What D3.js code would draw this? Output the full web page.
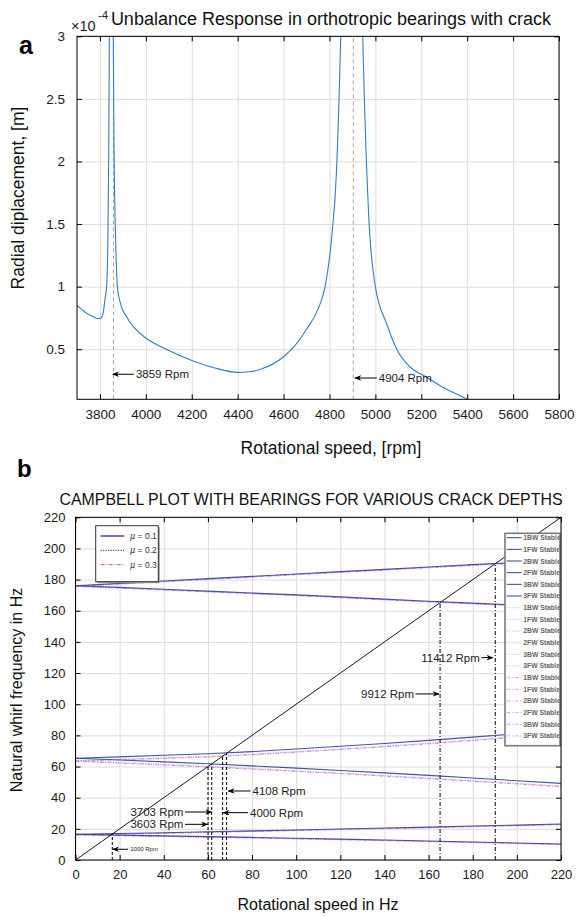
<!DOCTYPE html>
<html>
<head>
<meta charset="utf-8">
<script src="https://cdn.jsdelivr.net/npm/d3@7"></script>
<style>
  body { margin: 0; background: #fff; }
  svg { font-family: "Liberation Sans", Arial, sans-serif; }
  .grid line { stroke: #dcdcdc; }
  .grid path { display: none; }
  .axis path { display: none; }
  .axis line { stroke: #000; }
  .axis text { fill: #1a1a1a; }
</style>
</head>
<body>
<svg width="580" height="916"></svg>
<script>
// ---------- panel a : unbalance response ----------
const rpm = [3700, 3720, 3740, 3760, 3780, 3795, 3805, 3815, 3822, 3829, 3834, 3838, 3841, 3845, 3850,
  3855, 3858, 3862, 3868, 3876, 3890, 3916, 3950, 4000, 4100, 4200, 4300, 4400, 4450, 4500, 4600, 4650,
  4700, 4750, 4781, 4810, 4830, 4849, 4870, 4900, 4925, 4945, 4970, 5000, 5050, 5093, 5150, 5220, 5300, 5400, 5420];
const disp = [0.85, 0.82, 0.79, 0.77, 0.75, 0.745, 0.75, 0.80, 0.90, 1.0, 1.3, 2.0, 3.0, 5.0, 8.0,
  5.0, 3.0, 2.0, 1.4, 1.0, 0.86, 0.76, 0.67, 0.59, 0.49, 0.41, 0.35, 0.315, 0.32, 0.34, 0.44, 0.53,
  0.66, 0.82, 1.0, 1.4, 1.9, 3.0, 5.0, 8.0, 5.0, 3.0, 1.6, 1.0, 0.7, 0.5, 0.36, 0.28, 0.19, 0.1, 0.08];
const critRpm = [3859, 4904];
const critLabels = ["3859 Rpm", "4904 Rpm"];
// arrow tip, tail and height in data units
const critArrowTip = [3856, 4911];
const critArrowTail = [3948, 5006];
const critArrowY = [0.30, 0.27];
const topXTicks = d3.range(3800, 5801, 200);
const topYTicks = [0.5, 1, 1.5, 2, 2.5, 3];

// ---------- panel b : Campbell diagram ----------
const speedHz = [0, 20, 40, 60, 80, 100, 120, 140, 160, 180, 200, 220];
const modes = ["1BW", "1FW", "2BW", "2FW", "3BW", "3FW"];
const mu1 = [
  [16.5, 16.0, 15.5, 15.0, 14.5, 13.95, 13.4, 12.8, 12.2, 11.6, 10.95, 10.3],
  [16.5, 17.0, 17.5, 18.1, 18.7, 19.3, 19.9, 20.5, 21.1, 21.8, 22.4, 23.1],
  [65.3, 64.2, 63.0, 61.8, 60.4, 59.0, 57.5, 55.9, 54.3, 52.6, 50.9, 49.2],
  [65.3, 66.2, 67.2, 68.2, 69.6, 71.3, 73.0, 74.8, 76.8, 78.9, 81.1, 83.3],
  [176.1, 175.0, 173.8, 172.6, 171.4, 170.2, 168.9, 167.5, 166.1, 164.9, 163.7, 162.5],
  [176.1, 177.6, 179.1, 180.6, 182.1, 183.6, 185.1, 186.6, 188.1, 189.6, 191.1, 192.6]
];
const mu2 = [
  [16.2, 15.7, 15.2, 14.7, 14.2, 13.65, 13.1, 12.5, 11.9, 11.3, 10.65, 10.0],
  [16.2, 16.7, 17.2, 17.8, 18.4, 19.0, 19.6, 20.2, 20.8, 21.5, 22.1, 22.8],
  [63.8, 62.6, 61.4, 60.1, 58.7, 57.3, 55.8, 54.2, 52.6, 50.9, 49.2, 47.5],
  [63.8, 64.7, 65.6, 66.5, 67.9, 69.6, 71.3, 73.1, 75.0, 77.1, 79.3, 81.5],
  [175.8, 174.7, 173.5, 172.3, 171.1, 169.9, 168.6, 167.2, 165.8, 164.6, 163.4, 162.2],
  [175.8, 177.3, 178.8, 180.3, 181.8, 183.3, 184.8, 186.3, 187.8, 189.3, 190.8, 192.3]
];
const mu3 = [
  [16.1, 15.6, 15.1, 14.6, 14.1, 13.55, 13.0, 12.4, 11.8, 11.2, 10.55, 9.9],
  [16.1, 16.6, 17.1, 17.7, 18.3, 18.9, 19.5, 20.1, 20.7, 21.4, 22.0, 22.7],
  [63.4, 62.2, 61.0, 59.7, 58.3, 56.9, 55.4, 53.8, 52.2, 50.5, 48.8, 47.1],
  [63.4, 64.3, 65.2, 66.1, 67.5, 69.2, 70.9, 72.7, 74.6, 76.7, 78.9, 81.1],
  [175.6, 174.5, 173.3, 172.1, 170.9, 169.7, 168.4, 167.0, 165.6, 164.4, 163.2, 162.0],
  [175.6, 177.1, 178.6, 180.1, 181.6, 183.1, 184.6, 186.1, 187.6, 189.1, 190.6, 192.1]
];
const muLabels = ["0.1", "0.2", "0.3"];
const markRpm = [1000, 3603, 3703, 4000, 4108, 9912, 11412];
const markDash = ["3,2", "3,2", "3,2", "3,2", "3,2", "4,2,1,2", "4,2,1,2"];
// annotation: text, height (Hz), arrow tail and tip x (Hz)
const annText = ["1000 Rpm", "3603 Rpm", "3703 Rpm", "4000 Rpm", "4108 Rpm", "9912 Rpm", "11412 Rpm"];
const annY = [6.9, 22.9, 30.8, 30.4, 44.3, 106.6, 129.9];
const annTail = [23.9, 49.6, 49.6, 78.2, 79.3, 154.1, 183.9];
const annTip = [16.9, 59.8, 61.7, 66.9, 69.2, 164.7, 189.1];
const annSize = [6, 11.5, 11.5, 11.5, 11.5, 11.5, 11.5];
const botTicks = d3.range(0, 221, 20);

const svg = d3.select("svg");
const defs = svg.append("defs");
defs.append("marker").attr("id", "arr")
  .attr("viewBox", "0 0 10 10").attr("refX", 9).attr("refY", 5)
  .attr("markerWidth", 7).attr("markerHeight", 7).attr("orient", "auto-start-reverse")
  .append("path").attr("d", "M0,1 L10,5 L0,9 L3,5 Z").attr("fill", "#000");

// ================= panel a =================
const xA = d3.scaleLinear().domain([3700, 5800]).range([77, 559]);
const yA = d3.scaleLinear().domain([0.1, 3]).range([399.3, 36.3]);

defs.append("clipPath").attr("id", "clipA").append("rect")
  .attr("x", 77).attr("y", 36.3).attr("width", 482).attr("height", 363);

const gA = svg.append("g");
gA.append("g").attr("class", "grid")
  .attr("transform", "translate(0,399.3)")
  .call(d3.axisBottom(xA).tickValues(topXTicks).tickSize(-363).tickFormat(""));
gA.append("g").attr("class", "grid")
  .attr("transform", "translate(77,0)")
  .call(d3.axisLeft(yA).tickValues(topYTicks).tickSize(-482).tickFormat(""));

// critical speed markers
gA.selectAll(".crit").data(critRpm).enter().append("line")
  .attr("x1", d => xA(d)).attr("x2", d => xA(d))
  .attr("y1", yA(0.1)).attr("y2", yA(3))
  .attr("stroke", "#a8a8a8").attr("stroke-width", 1).attr("stroke-dasharray", "4,3");

gA.append("path")
  .datum(d3.zip(rpm, disp))
  .attr("clip-path", "url(#clipA)")
  .attr("fill", "none").attr("stroke", "#2e7ec6").attr("stroke-width", 1.1)
  .attr("d", d3.line().x(d => xA(d[0])).y(d => yA(d[1])).curve(d3.curveMonotoneX));

critRpm.forEach((c, i) => {
  gA.append("line")
    .attr("x1", xA(critArrowTail[i])).attr("x2", xA(critArrowTip[i]))
    .attr("y1", yA(critArrowY[i])).attr("y2", yA(critArrowY[i]))
    .attr("stroke", "#000").attr("stroke-width", 1).attr("marker-end", "url(#arr)");
  gA.append("text")
    .attr("x", xA(critArrowTail[i]) + 2).attr("y", yA(critArrowY[i]) + 4)
    .attr("font-size", 11.5).attr("fill", "#222").text(critLabels[i]);
});

// axes with inward ticks on four sides
gA.append("g").attr("class", "axis").attr("transform", "translate(0,399.3)")
  .call(d3.axisBottom(xA).tickValues(topXTicks).tickFormat(d3.format("d"))
    .tickSizeInner(-5).tickSizeOuter(0).tickPadding(10))
  .selectAll("text").attr("font-size", 13.5);
gA.append("g").attr("class", "axis").attr("transform", "translate(0,36.3)")
  .call(d3.axisTop(xA).tickValues(topXTicks).tickSizeInner(-5).tickSizeOuter(0).tickFormat(""));
gA.append("g").attr("class", "axis").attr("transform", "translate(77,0)")
  .call(d3.axisLeft(yA).tickValues(topYTicks).tickFormat(d3.format("~g"))
    .tickSizeInner(-5).tickSizeOuter(0).tickPadding(12))
  .selectAll("text").attr("font-size", 13.5);
gA.append("g").attr("class", "axis").attr("transform", "translate(559,0)")
  .call(d3.axisRight(yA).tickValues(topYTicks).tickSizeInner(-5).tickSizeOuter(0).tickFormat(""));
gA.append("rect").attr("x", 77).attr("y", 36.3).attr("width", 482).attr("height", 363)
  .attr("fill", "none").attr("stroke", "#000").attr("stroke-width", 1);

svg.append("text").attr("x", 19).attr("y", 54).attr("font-size", 25).attr("font-weight", "bold").text("a");
svg.append("text").attr("x", 71).attr("y", 31).attr("font-size", 14.5).attr("fill", "#222")
  .text("\u00d710");
svg.append("text").attr("x", 98).attr("y", 19).attr("font-size", 11.5).attr("fill", "#222").text("-4");
svg.append("text").attr("x", 331).attr("y", 25).attr("text-anchor", "middle")
  .attr("font-size", 18).attr("fill", "#111").text("Unbalance Response in orthotropic bearings with crack");
svg.append("text").attr("x", 331).attr("y", 454).attr("text-anchor", "middle")
  .attr("font-size", 17.5).attr("fill", "#111").text("Rotational speed, [rpm]");
svg.append("text").attr("transform", "translate(24,198) rotate(-90)").attr("text-anchor", "middle")
  .attr("font-size", 17.5).attr("fill", "#111").text("Radial diplacement, [m]");

// ================= panel b =================
const xB = d3.scaleLinear().domain([0, 220]).range([75.5, 561]);
const yB = d3.scaleLinear().domain([0, 220]).range([860, 517.3]);
const bw = 561 - 75.5, bh = 860 - 517.3;

defs.append("clipPath").attr("id", "clipB").append("rect")
  .attr("x", 75.5).attr("y", 517.3).attr("width", bw).attr("height", bh);

const gB = svg.append("g");
gB.append("g").attr("class", "grid").attr("transform", "translate(0,860)")
  .call(d3.axisBottom(xB).tickValues(botTicks).tickSize(-bh).tickFormat(""));
gB.append("g").attr("class", "grid").attr("transform", "translate(75.5,0)")
  .call(d3.axisLeft(yB).tickValues(botTicks).tickSize(-bw).tickFormat(""));

const lineB = d3.line().x(d => xB(d[0])).y(d => yB(d[1]));
const styles = [
  {stroke: "#2f3fa6", dash: null, width: 1.1, op: 0.9},
  {stroke: "#8a8a8a", dash: "1,1.5", width: 1, op: 0.8},
  {stroke: "#d568cf", dash: "4,1.5,1,1.5", width: 1, op: 0.8}
];
const seriesSets = [mu1, mu2, mu3];
const plotOrder = [1, 2, 0];
const gLines = gB.append("g").attr("clip-path", "url(#clipB)");
plotOrder.forEach(k => {
  seriesSets[k].forEach(vals => {
    gLines.append("path").datum(d3.zip(speedHz, vals))
      .attr("fill", "none").attr("stroke", styles[k].stroke)
      .attr("stroke-width", styles[k].width).attr("stroke-opacity", styles[k].op)
      .attr("stroke-dasharray", styles[k].dash).attr("d", lineB);
  });
});
// 1x excitation line
gLines.append("path").datum([[0, 0], [220, 220]])
  .attr("fill", "none").attr("stroke", "#000").attr("stroke-width", 0.9).attr("d", lineB);

// critical speed verticals
gLines.selectAll(".mark").data(markRpm).enter().append("line")
  .attr("x1", d => xB(d / 60)).attr("x2", d => xB(d / 60))
  .attr("y1", yB(0)).attr("y2", d => yB(d / 60))
  .attr("stroke", "#000").attr("stroke-width", 1)
  .attr("stroke-dasharray", (d, i) => markDash[i]);

annText.forEach((t, i) => {
  const left = annTail[i] < annTip[i];
  gB.append("line")
    .attr("x1", xB(annTail[i])).attr("x2", xB(annTip[i]))
    .attr("y1", yB(annY[i])).attr("y2", yB(annY[i]))
    .attr("stroke", "#000").attr("stroke-width", 1).attr("marker-end", "url(#arr)");
  gB.append("text")
    .attr("x", xB(annTail[i]) + (left ? -1.5 : 2)).attr("y", yB(annY[i]) + annSize[i] * 0.36)
    .attr("text-anchor", left ? "end" : "start")
    .attr("font-size", annSize[i]).attr("fill", "#222")
    .text(t);
});

gB.append("g").attr("class", "axis").attr("transform", "translate(0,860)")
  .call(d3.axisBottom(xB).tickValues(botTicks).tickSizeInner(-5).tickSizeOuter(0).tickPadding(10))
  .selectAll("text").attr("font-size", 13);
gB.append("g").attr("class", "axis").attr("transform", "translate(0,517.3)")
  .call(d3.axisTop(xB).tickValues(botTicks).tickSizeInner(-5).tickSizeOuter(0).tickFormat(""));
gB.append("g").attr("class", "axis").attr("transform", "translate(75.5,0)")
  .call(d3.axisLeft(yB).tickValues(botTicks).tickSizeInner(-5).tickSizeOuter(0).tickPadding(10))
  .selectAll("text").attr("font-size", 13);
gB.append("g").attr("class", "axis").attr("transform", "translate(561,0)")
  .call(d3.axisRight(yB).tickValues(botTicks).tickSizeInner(-5).tickSizeOuter(0).tickFormat(""));

// mu legend
const lg1 = gB.append("g").attr("transform", "translate(95.7,525.7)");
lg1.append("rect").attr("x", 1.5).attr("y", 1.5).attr("width", 62.6).attr("height", 56).attr("fill", "#9a9a9a");
lg1.append("rect").attr("width", 62.6).attr("height", 56).attr("fill", "#fff")
  .attr("stroke", "#333").attr("stroke-width", 1);
muLabels.forEach((m, i) => {
  const yy = 10.3 + i * 14.3;
  lg1.append("line").attr("x1", 5).attr("x2", 28.6).attr("y1", yy).attr("y2", yy)
    .attr("stroke", i === 1 ? "#333" : styles[i].stroke).attr("stroke-width", i ? 1.2 : 1.4)
    .attr("stroke-dasharray", styles[i].dash);
  const tx = lg1.append("text").attr("x", 34).attr("y", yy + 3).attr("font-size", 8.5).attr("fill", "#333");
  tx.append("tspan").attr("font-style", "italic").attr("font-family", "DejaVu Serif, serif").text("\u03bc");
  tx.append("tspan").text(" = " + m);
});

// mode legend
const lg2 = gB.append("g").attr("transform", "translate(505,533.3)");
defs.append("clipPath").attr("id", "clipL").append("rect")
  .attr("x", 0).attr("y", 0).attr("width", 55).attr("height", 212.4);
lg2.append("rect").attr("width", 55).attr("height", 212.4).attr("fill", "#fff");
const lgEntries = lg2.append("g").attr("clip-path", "url(#clipL)");
seriesSets.forEach((set, k) => {
  modes.forEach((m, j) => {
    const yy = 4.4 + (k * 6 + j) * 11.66;
    lgEntries.append("line").attr("x1", 1.7).attr("x2", 16.7).attr("y1", yy).attr("y2", yy)
      .attr("stroke", styles[k].stroke).attr("stroke-width", 1)
      .attr("stroke-opacity", k ? 0.6 : 1).attr("stroke-dasharray", styles[k].dash);
    lgEntries.append("text").attr("x", 18.3).attr("y", yy + 2.5)
      .attr("font-size", 6.8).attr("font-weight", "bold").attr("fill", "#666")
      .text(m + " Stable");
  });
});
lg2.append("rect").attr("width", 55).attr("height", 212.4).attr("fill", "none")
  .attr("stroke", "#7a7a7a").attr("stroke-width", 1.6);

gB.append("rect").attr("x", 75.5).attr("y", 517.3).attr("width", bw).attr("height", bh)
  .attr("fill", "none").attr("stroke", "#000").attr("stroke-width", 1);

svg.append("text").attr("x", 17).attr("y", 477).attr("font-size", 24).attr("font-weight", "bold").text("b");
svg.append("text").attr("x", 311).attr("y", 505).attr("text-anchor", "middle")
  .attr("font-size", 15.9).attr("fill", "#111").text("CAMPBELL PLOT WITH BEARINGS FOR VARIOUS CRACK DEPTHS");
svg.append("text").attr("x", 318).attr("y", 910).attr("text-anchor", "middle")
  .attr("font-size", 16).attr("fill", "#111").text("Rotational speed in Hz");
svg.append("text").attr("transform", "translate(22,690) rotate(-90)").attr("text-anchor", "middle")
  .attr("font-size", 16).attr("fill", "#111").text("Natural whirl frequency in Hz");
</script>
</body>
</html>
